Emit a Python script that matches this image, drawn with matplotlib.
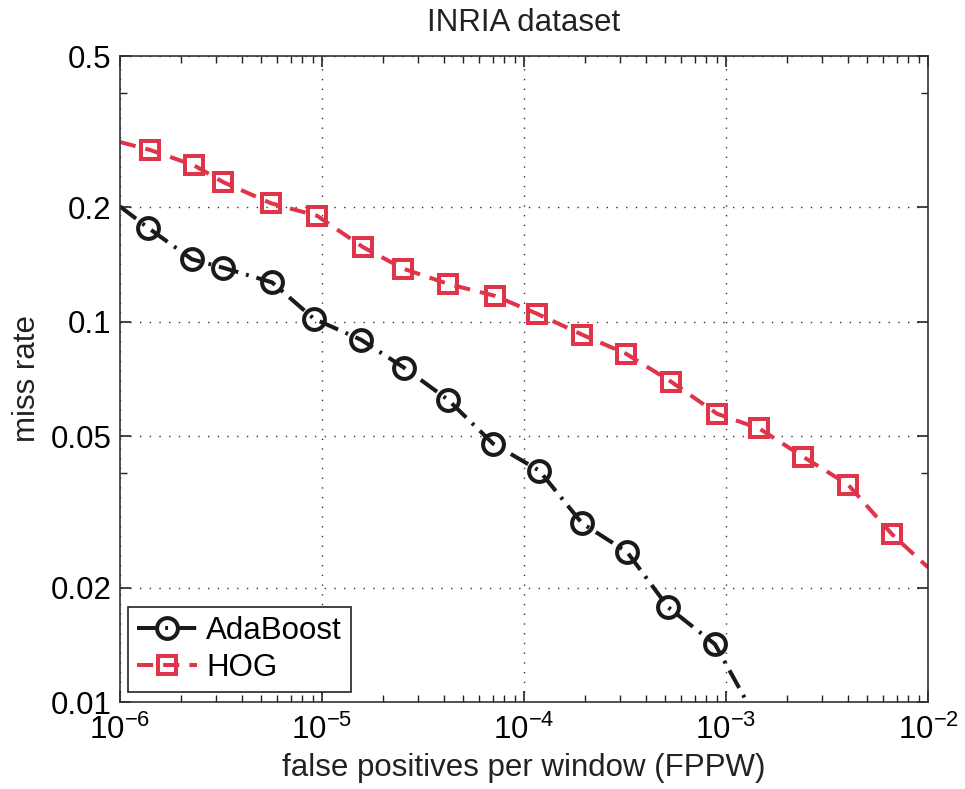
import matplotlib
matplotlib.use("Agg")
import matplotlib.pyplot as plt
from matplotlib.ticker import FixedLocator, NullFormatter, LogLocator

# ---- data ----
title = "INRIA dataset"
xlabel = "false positives per window (FPPW)"
ylabel = "miss rate"
series_names = ["AdaBoost", "HOG"]

# AdaBoost (line starts/ends at the axes border; end points carry no marker)
ada_fppw = [1.0e-6, 1.38e-6, 2.27e-6, 3.24e-6, 5.65e-6, 9.13e-6, 1.56e-5, 2.55e-5,
            4.2e-5, 7.03e-5, 1.19e-4, 1.94e-4, 3.24e-4, 5.17e-4, 8.82e-4, 1.27e-3]
ada_miss = [0.201, 0.1765, 0.146, 0.1387, 0.127, 0.1018, 0.0897, 0.0757,
            0.0624, 0.0478, 0.0406, 0.0295, 0.0248, 0.01775, 0.01419, 0.0100]

hog_fppw = [1.0e-6, 1.41e-6, 2.32e-6, 3.24e-6, 5.59e-6, 9.45e-6, 1.60e-5, 2.52e-5,
            4.2e-5, 7.18e-5, 1.16e-4, 1.94e-4, 3.2e-4, 5.34e-4, 9.03e-4, 1.46e-3,
            2.4e-3, 4.02e-3, 6.64e-3, 1.0e-2]
hog_miss = [0.297, 0.283, 0.258, 0.233, 0.205, 0.190, 0.157, 0.138,
            0.1258, 0.117, 0.105, 0.0925, 0.0824, 0.0696, 0.0573, 0.0524,
            0.0442, 0.0373, 0.0276, 0.0226]

xticks = [1e-6, 1e-5, 1e-4, 1e-3, 1e-2]
yticks = [0.01, 0.02, 0.05, 0.1, 0.2, 0.5]
ytick_labels = ["0.01", "0.02", "0.05", "0.1", "0.2", "0.5"]
yminor = [0.04, 0.4]

# ---- style ----
plt.rcParams['font.family'] = ['Liberation Sans', 'DejaVu Sans']
plt.rcParams['mathtext.fontset'] = 'custom'
plt.rcParams['mathtext.rm'] = 'Liberation Sans'
plt.rcParams['mathtext.it'] = 'Liberation Sans'
plt.rcParams['mathtext.default'] = 'regular'
FS = 22.5
red = '#e0344a'

fig = plt.figure(figsize=(9.65, 7.89), dpi=100)
ax = fig.add_axes([120/965, 87/789, 808/965, 646/789])
ax.set_xscale('log')
ax.set_yscale('log')
ax.set_xlim(1e-6, 1e-2)
ax.set_ylim(0.01, 0.5)

l1, = ax.plot(ada_fppw, ada_miss, color='#1a1a1a', lw=2.9,
              linestyle=(0, (5, 2, 0.7, 2)), marker='o', markersize=15,
              markerfacecolor='none', markeredgewidth=2.9,
              markevery=list(range(1, len(ada_fppw) - 1)), clip_on=True)
l2, = ax.plot(hog_fppw, hog_miss, color=red, lw=2.9,
              linestyle=(0, (4, 2.5)), marker='s', markersize=12.5,
              markerfacecolor='none', markeredgewidth=2.9,
              markevery=list(range(1, len(hog_fppw) - 1)), clip_on=True)

ax.xaxis.set_major_locator(FixedLocator(xticks))
ax.xaxis.set_minor_locator(LogLocator(base=10, subs=range(2, 10)))
ax.xaxis.set_minor_formatter(NullFormatter())
ax.yaxis.set_major_locator(FixedLocator(yticks))
ax.set_yticklabels(ytick_labels)
ax.yaxis.set_minor_locator(FixedLocator(yminor))
ax.yaxis.set_minor_formatter(NullFormatter())

ax.tick_params(which='both', direction='in', top=True, right=True, labelsize=FS,
               color='#222222')
ax.tick_params(which='major', length=8, width=1.2, pad=6)
ax.tick_params(which='minor', length=5, width=1.0)
ax.tick_params(axis='x', which='major', pad=9)

ax.grid(True, which='major', linestyle=(0, (1, 6)), color='#333333', linewidth=1.0)
ax.set_axisbelow(True)
for s in ax.spines.values():
    s.set_color('#333333')
    s.set_linewidth(1.2)

ax.set_title(title, fontsize=FS, pad=18, color='#222222')
ax.set_xlabel(xlabel, fontsize=FS, labelpad=5, color='#222222')
ax.set_ylabel(ylabel, fontsize=FS, labelpad=6, color='#222222')

leg = ax.legend([l1, l2], series_names, loc='lower left',
                bbox_to_anchor=(8/808, 10/646), borderaxespad=0,
                fontsize=FS, handlelength=1.9, handletextpad=0.3,
                labelspacing=0.2, borderpad=0.3, fancybox=False,
                framealpha=1, edgecolor='#222222')
leg.get_frame().set_linewidth(1.2)

fig.savefig('out.png', dpi=100)
